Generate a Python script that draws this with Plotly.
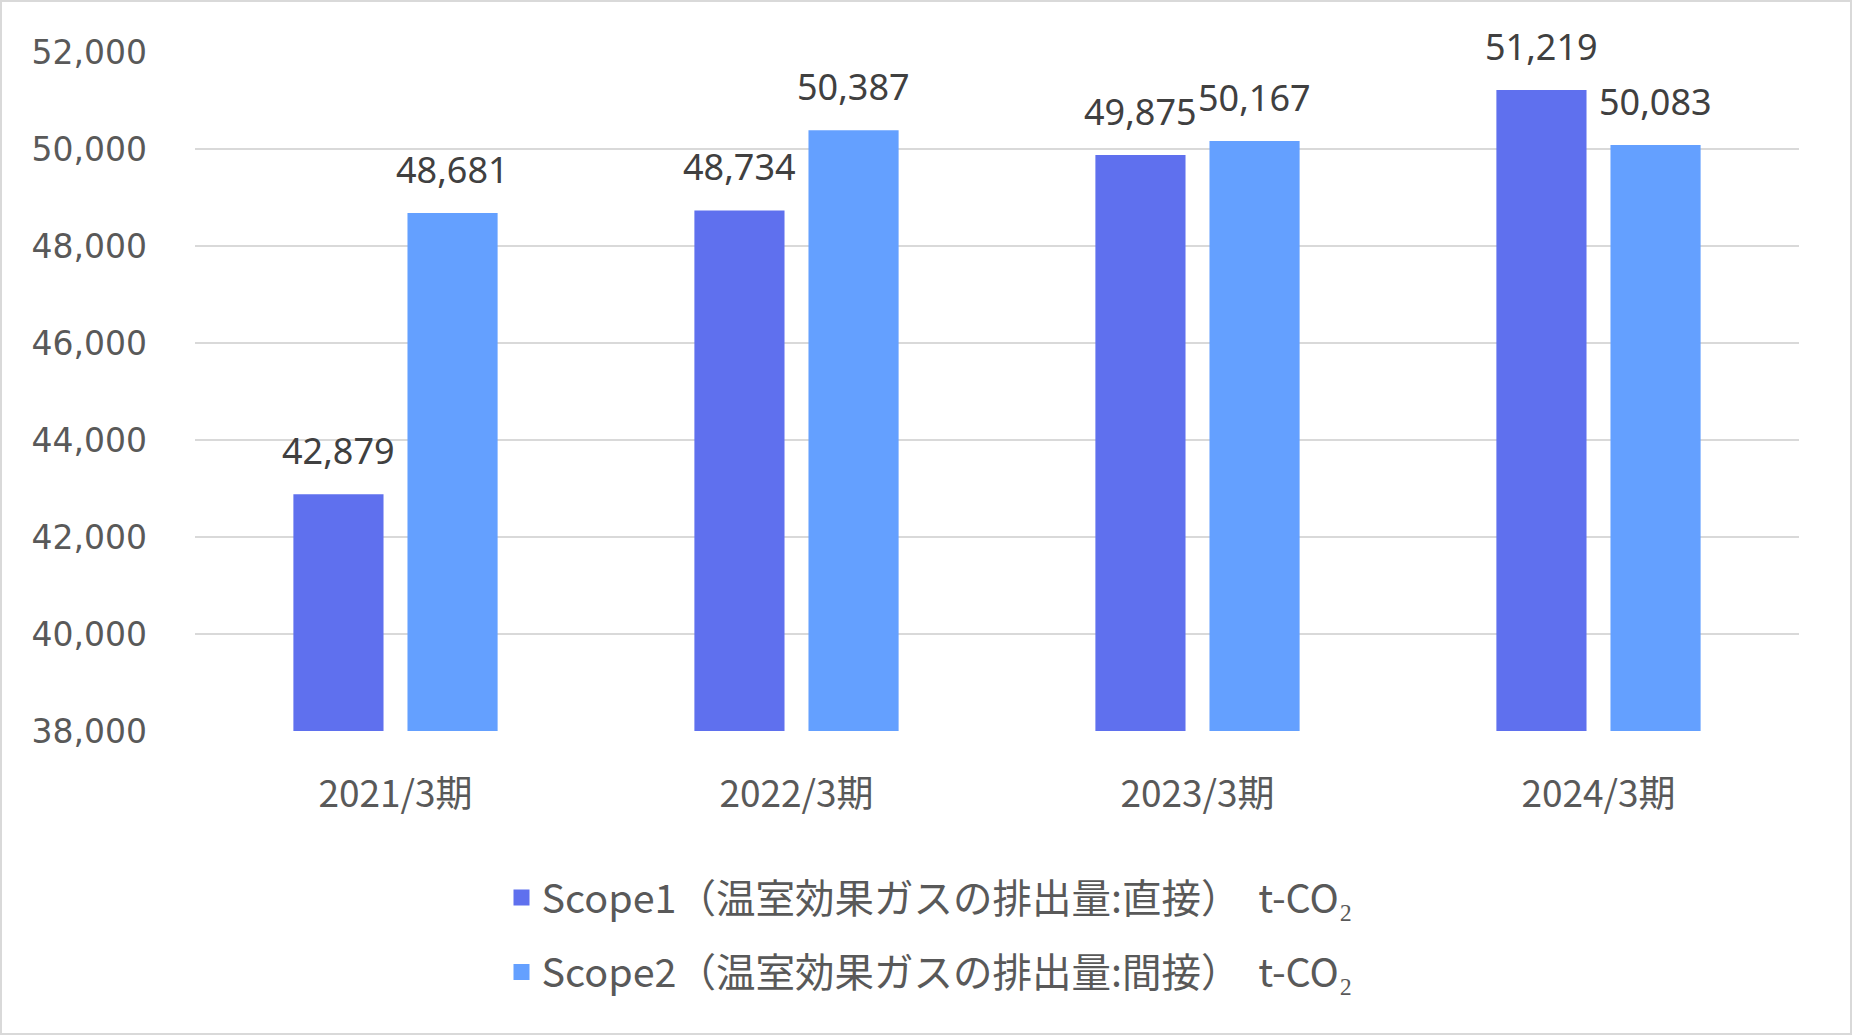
import plotly.graph_objects as go

categories = ["2021/3期", "2022/3期", "2023/3期", "2024/3期"]
scope1 = [42879, 48734, 49875, 51219]
scope2 = [48681, 50387, 50167, 50083]
series_names = [
    "Scope1（温室効果ガスの排出量:直接）  t-CO₂",
    "Scope2（温室効果ガスの排出量:間接）  t-CO₂",
]
colors = ["#5F70EE", "#64A0FF"]
tick_vals = list(range(38000, 52001, 2000))

W, H = 1852, 1035
L, R, T, B = 195, 53, 52, 304

fig = go.Figure()
for i, (name, vals) in enumerate(zip(series_names, [scope1, scope2])):
    fig.add_trace(go.Bar(
        x=categories, y=vals, name=name,
        marker=dict(color=colors[i], line=dict(width=0)),
        showlegend=False,
    ))
# legend entries with larger square symbols
for i, name in enumerate(series_names):
    fig.add_trace(go.Scatter(
        x=[None], y=[None], name=name, mode="markers",
        marker=dict(color=colors[i], symbol="square", size=16),
        legendgroup=f"g{i}", showlegend=True,
    ))

# data labels
for i, vals in enumerate([scope1, scope2]):
    shift = -57 if i == 0 else 57
    for c, v in zip(categories, vals):
        fig.add_annotation(
            x=c, y=v, xref="x", yref="y", text=f"{v:,}",
            showarrow=False, xshift=shift, yanchor="bottom", yshift=17,
            font=dict(family="Noto Sans, Noto Sans CJK JP", size=36, color="#404040"),
        )

pw = W - L - R
ph = H - T - B
fig.add_shape(
    type="rect", xref="paper", yref="paper",
    x0=(1 - L) / pw, x1=(W - 1 - L) / pw,
    y0=(T + ph - (H - 1)) / ph, y1=(T + ph - 1) / ph,
    line=dict(color="#D9D9D9", width=2), fillcolor="rgba(0,0,0,0)", layer="below",
)

fig.update_layout(
    width=W, height=H,
    margin=dict(l=L, r=R, t=T, b=B),
    paper_bgcolor="white", plot_bgcolor="white",
    barmode="group", bargap=0.431, bargroupgap=0.21,
    showlegend=True,
    legend=dict(
        orientation="v", x=(930 - L) / pw, xanchor="center",
        y=-0.198, yanchor="top",
        font=dict(family="Noto Sans CJK JP", size=39.5, color="#595959"),
        tracegroupgap=20, traceorder="grouped", itemsizing="trace",
    ),
    xaxis=dict(
        type="category", showgrid=False, showline=False, ticks="",
        tickfont=dict(family="Noto Sans CJK JP", size=37, color="#595959"),
        ticklabelstandoff=38,
    ),
    yaxis=dict(
        range=[38000, 52000], tickvals=tick_vals, tickformat=",",
        showgrid=True, gridcolor="#D9D9D9", gridwidth=2,
        zeroline=False, showline=False, ticks="",
        tickfont=dict(family="DejaVu Sans", size=33, color="#595959"),
        ticklabelstandoff=47,
    ),
    font=dict(family="Noto Sans CJK JP"),
)

fig.write_html("out.html")
